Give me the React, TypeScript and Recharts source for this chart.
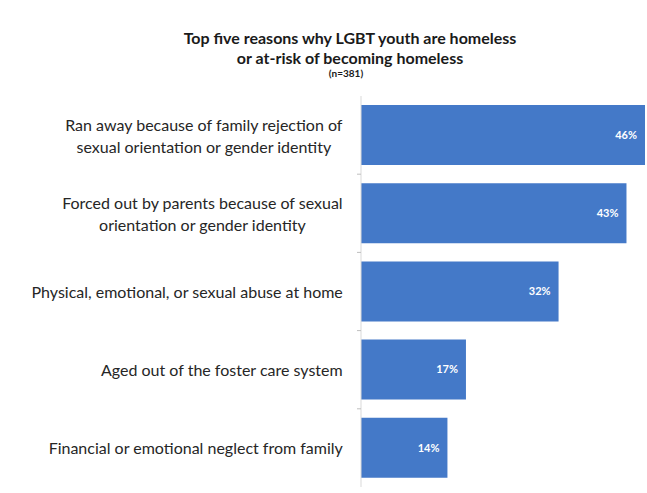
import React from 'react';
import { BarChart, Bar, XAxis, YAxis, LabelList } from 'recharts';

const categories: string[][] = [
  ['Ran away because of family rejection of', 'sexual orientation or gender identity'],
  ['Forced out by parents because of sexual', 'orientation or gender identity'],
  ['Physical, emotional, or sexual abuse at home'],
  ['Aged out of the foster care system'],
  ['Financial or emotional neglect from family'],
];
const values: number[] = [46, 43, 32, 17, 14];
const title1 = 'Top five reasons why LGBT youth are homeless';
const title2 = 'or at-risk of becoming homeless';
const subtitle = '(n=381)';

const data = categories.map((c, i) => ({ name: c.join('|'), value: values[i] }));

const W = 647;
const H = 493;
const MT = 96;
const MB = 6;
const BAND = (H - MT - MB) / categories.length;
const FONT = 'Lato, "Open Sans", sans-serif';
const LABEL_SIZE = 16;

let ctx: CanvasRenderingContext2D | null = null;
function measure(text: string, size: number, weight = 'normal'): number {
  if (!ctx) {
    const c = document.createElement('canvas');
    ctx = c.getContext('2d');
  }
  if (!ctx) return text.length * size * 0.5;
  ctx.font = `${weight} ${size}px Lato`;
  return ctx.measureText(text).width;
}

const CatTick = (props: any) => {
  const { x, y, payload, index } = props;
  const lines: string[] = String(payload.value).split('|');
  const right = x - 10;
  const widths = lines.map((l) => measure(l, LABEL_SIZE));
  const maxW = Math.max(...widths);
  const cx = right - maxW / 2;
  const lh = 22;
  const startY = y - ((lines.length - 1) * lh) / 2;
  return (
    <g>
      {index < categories.length - 1 && (
        <line x1={x + 4} x2={x + 8} y1={y + BAND / 2} y2={y + BAND / 2} stroke="#bfbfbf" />
      )}
      {lines.map((l, i) => (
        <text
          key={i}
          x={cx}
          y={startY + i * lh}
          textAnchor="middle"
          dominantBaseline="central"
          fontFamily={FONT}
          fontSize={LABEL_SIZE}
          fill="#262626"
        >
          {l}
        </text>
      ))}
    </g>
  );
};

export default function App() {
  return (
    <div style={{ position: 'absolute', left: 0, top: 0, width: W, height: H, background: '#fff' }}>
      <svg width={W} height={90} style={{ position: 'absolute', left: 0, top: 0 }}>
        <text x={350} y={37} textAnchor="middle" dominantBaseline="central" fontFamily={FONT} fontWeight="bold" fontSize={16} fill="#1a1a1a">
          {title1}
        </text>
        <text x={350} y={57} textAnchor="middle" dominantBaseline="central" fontFamily={FONT} fontWeight="bold" fontSize={16} fill="#1a1a1a">
          {title2}
        </text>
        <text x={346} y={73} textAnchor="middle" dominantBaseline="central" fontFamily={FONT} fontWeight="bold" fontSize={10} fill="#1a1a1a">
          {subtitle}
        </text>
      </svg>
      <BarChart
        width={W}
        height={H}
        data={data}
        layout="vertical"
        margin={{ top: MT, right: 2, bottom: MB, left: 0 }}
        barCategoryGap="11.5%"
      >
        <XAxis type="number" domain={[0, 46]} hide />
        <YAxis
          type="category"
          dataKey="name"
          width={361}
          axisLine={{ stroke: '#d9d9d9' }}
          tickLine={false}
          tick={<CatTick />}
          interval={0}
        />
        <Bar dataKey="value" fill="#4479c8" isAnimationActive={false}>
          <LabelList
            dataKey="value"
            position="insideRight"
            offset={8}
            formatter={(v: any) => `${v}%`}
            fill="#ffffff"
            fontFamily={FONT}
            fontWeight="bold"
            fontSize={11}
          />
        </Bar>
      </BarChart>
    </div>
  );
}
